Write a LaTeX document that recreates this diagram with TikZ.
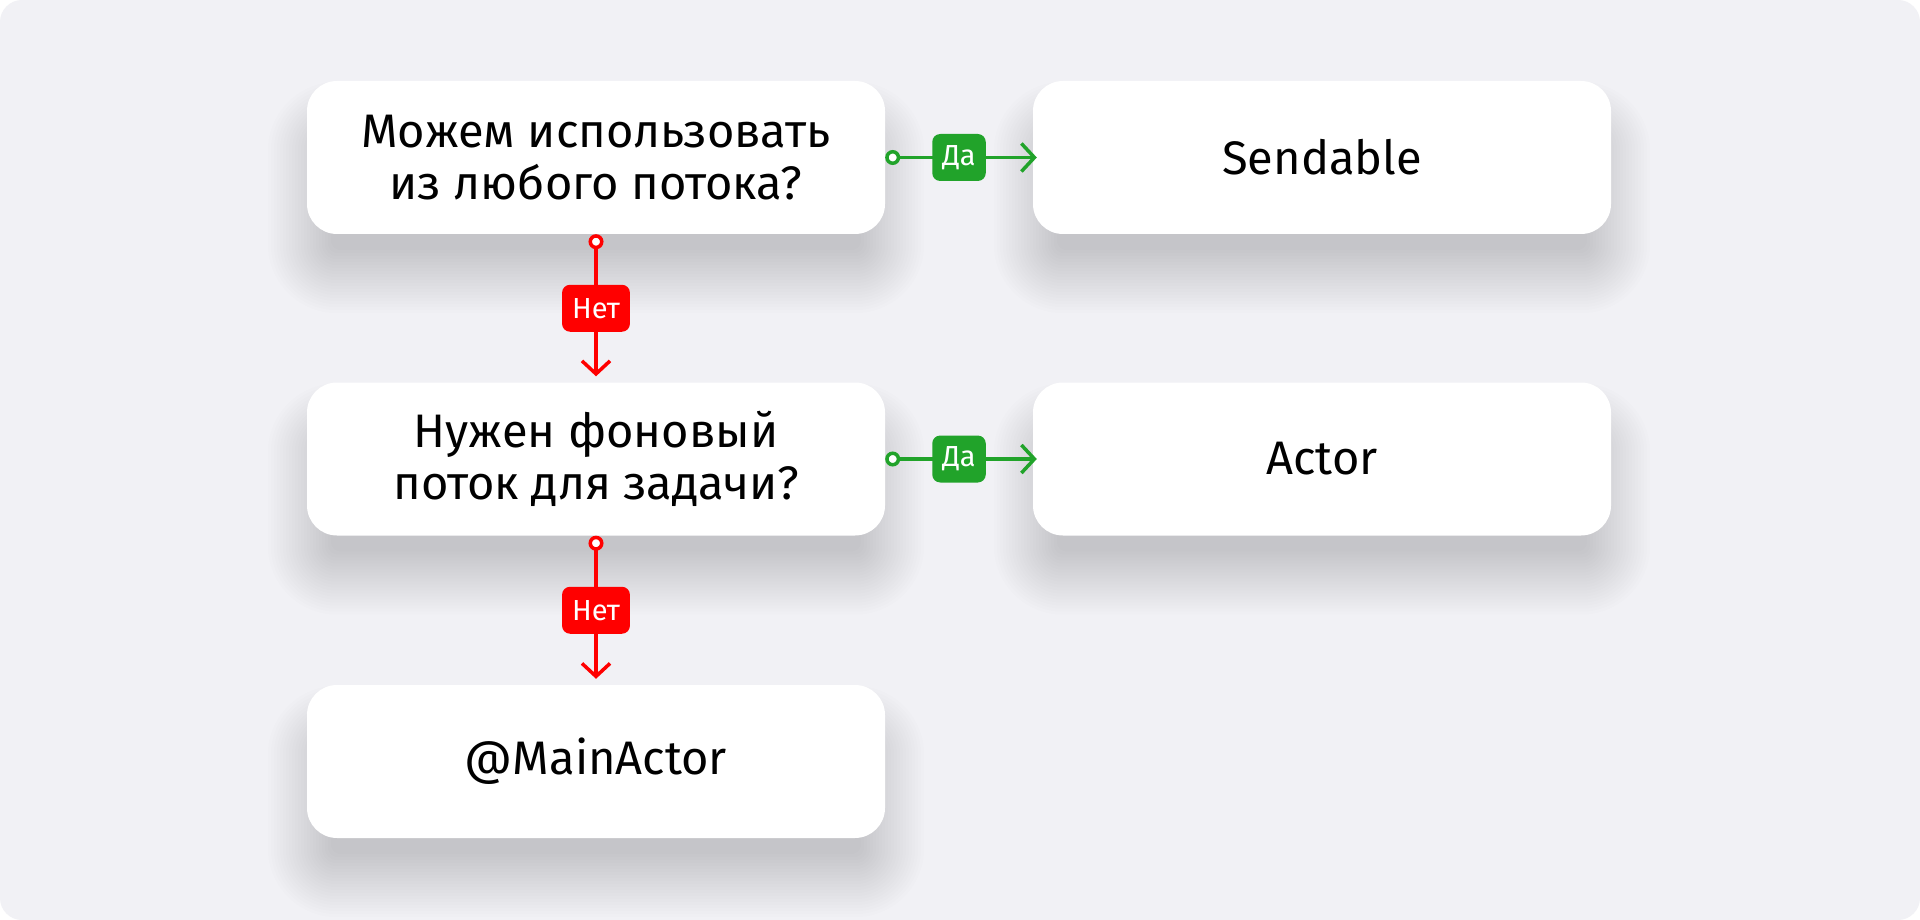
\documentclass[tikz,border=0pt]{standalone}
\usepackage{fontspec}
\setmainfont{Fira Sans}
\usetikzlibrary{arrows.meta}
\definecolor{bgc}{HTML}{F1F1F5}
\definecolor{yes}{HTML}{21A32A}
\definecolor{no}{HTML}{FF0000}
\definecolor{shc}{HTML}{2A2C40}
\pgfdeclarelayer{bg}
\pgfdeclarelayer{shadowlayer}
\pgfsetlayers{bg,shadowlayer,main}
\tikzset{
  x=1pt,y=-1pt,
  box/.style={rectangle, rounded corners=30pt, fill=white, minimum width=578pt, minimum height=153pt,
    align=center, font=\fontsize{47}{52}\selectfont, text=black, inner sep=0pt},
  yeslbl/.style={rectangle, rounded corners=8pt, fill=yes, text=white, font=\fontsize{29}{30}\selectfont,
    minimum height=47pt, inner xsep=10pt, inner ysep=0pt},
  nolbl/.style={yeslbl, fill=no},
  conn/.style={line width=3.5pt, {Circle[open,fill=white,length=15pt,width=15pt,line width=3.5pt]}-{Straight Barb[length=13pt,width=28pt,line width=3.5pt]}},
}
\begin{document}
\begin{tikzpicture}
\useasboundingbox (0,0) rectangle (1920,920);
\begin{pgfonlayer}{bg}
\fill[white] (0,0) rectangle (1920,920);
\fill[bgc, rounded corners=22pt] (0,0) rectangle (1920,920);
\end{pgfonlayer}

\node[box] (q1) at (596,157.5) {Можем использовать\\из любого потока?};
\node[box] (s) at (1322,157.5) {Sendable};
\node[box] (q2) at (596,459) {Нужен фоновый\\поток для задачи?};
\node[box] (a) at (1322,459) {Actor};
\node[box] (m) at (596,761.5) {@MainActor};

\begin{pgfonlayer}{shadowlayer}
\foreach \n in {q1,s,q2,a,m}{
  \foreach \i in {0,...,21}{
    \pgfmathsetmacro{\e}{3*\i-24}
    \pgfmathsetmacro{\r}{max(30+\e,10)}
    \fill[shc, opacity=0.006, rounded corners=\r pt]
      ([shift={(-\e,-\e+40)}]\n.north west) rectangle ([shift={(\e,\e+40)}]\n.south east);
  }
}
\end{pgfonlayer}

\draw[conn, yes, shorten >=-4pt] (q1.east) -- node[yeslbl] {Да} (s.west);
\draw[conn, yes, shorten >=-4pt] (q2.east) -- node[yeslbl] {Да} (a.west);
\draw[conn, no, shorten >=6pt] (q1.south) -- node[nolbl] {Нет} (q2.north);
\draw[conn, no, shorten >=6pt] (q2.south) -- node[nolbl] {Нет} (m.north);
\end{tikzpicture}
\end{document}
